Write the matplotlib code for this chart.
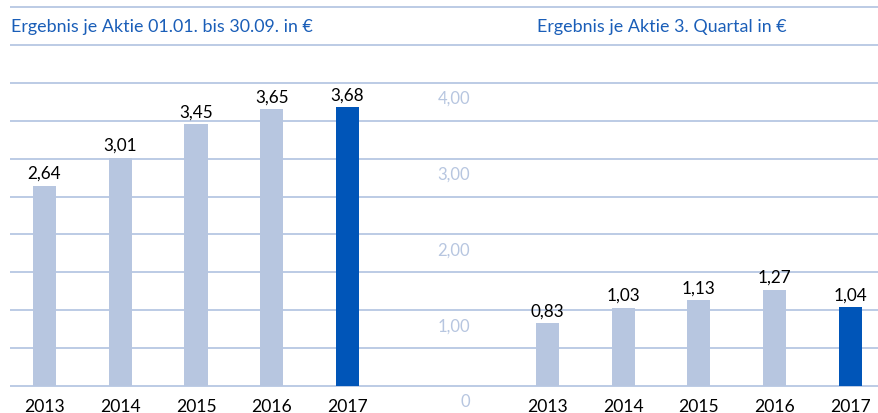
import numpy as np
import matplotlib.pyplot as plt

# data
years = ['2013', '2014', '2015', '2016', '2017']
eps_9m = [2.64, 3.01, 3.45, 3.65, 3.68]   # 01.01. bis 30.09.
eps_q3 = [0.83, 1.03, 1.13, 1.27, 1.04]   # 3. Quartal
axis_ticks = [0, 1, 2, 3, 4]
axis_labels = ['0', '1,00', '2,00', '3,00', '4,00']

light = '#b7c6e0'
dark = '#0055b8'
grid_col = '#bccbe5'
title_col = '#1a5eb8'

plt.rcParams['font.family'] = ['Lato', 'DejaVu Sans']

fig = plt.figure(figsize=(8.79, 4.14), dpi=100)
ax = fig.add_axes([10/879, 27/414, 869/879, 379/414])
ax.axis('off')
ax.set_xlim(-0.4554, 11.017)
ax.set_ylim(0, 5.0)

# continuous horizontal rules across both charts
ax.hlines(np.arange(0, 5.01, 0.5), -0.4554, 11.017, color=grid_col, lw=1.4, clip_on=False, zorder=1)

x_left = np.arange(len(years))
x_right = x_left + 6.64
cols = [light] * 4 + [dark]

for xs, vals in [(x_left, eps_9m), (x_right, eps_q3)]:
    ax.bar(xs, vals, width=0.304, color=cols, zorder=3)
    for x, v, yr in zip(xs, vals, years):
        ax.annotate(f'{v:.2f}'.replace('.', ','), (x, v), xytext=(0, 3.5),
                    textcoords='offset points', ha='center', va='bottom', fontsize=12.3)
        ax.text(x, -0.27, yr, ha='center', va='center', fontsize=12.6, clip_on=False)

# value axis of the right chart, labels sit below their rule
for t, lab in zip(axis_ticks, axis_labels):
    ax.text(5.617, t - 0.2, lab, ha='right', va='center', fontsize=12, color=light, clip_on=False)

fig.text(11/879, 1 - 27/414, 'Ergebnis je Aktie 01.01. bis 30.09. in €', va='center',
         color=title_col, fontsize=12.9)
fig.text(537/879, 1 - 27/414, 'Ergebnis je Aktie 3. Quartal in €', va='center',
         color=title_col, fontsize=12.9)

fig.savefig('out.png', dpi=100)
